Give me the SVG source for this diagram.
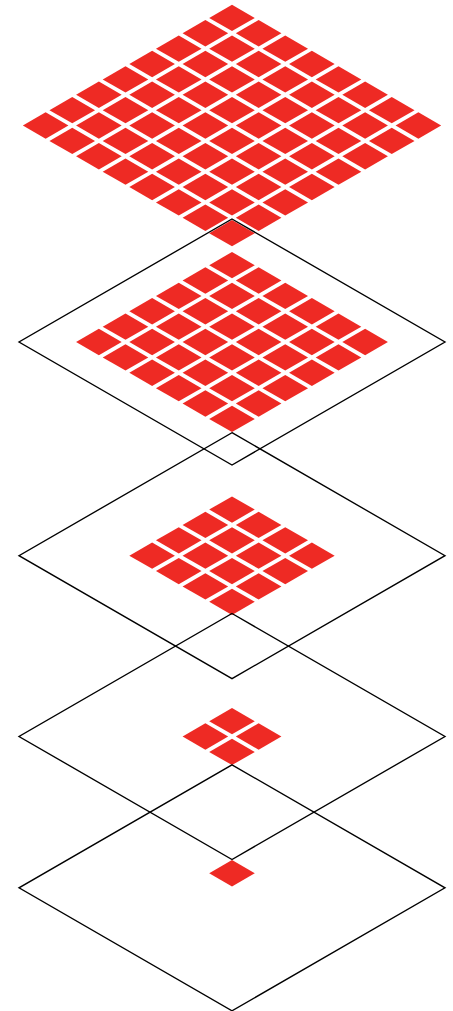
<svg xmlns="http://www.w3.org/2000/svg" width="453" height="1011" viewBox="0 0 453 1011">
<style>
.tiles{fill:#EE2A24}
.outline{fill:none;stroke:#000;stroke-width:1.35;stroke-linejoin:miter}
</style>
<defs>
<rect id="t" x="0.072" y="0.072" width="0.856" height="0.856"/>
</defs>
<rect width="453" height="1011" fill="#fff"/>
<g id="layer1">
<g class="tiles" transform="matrix(26.625 15.375 -26.625 15.375 232 2.5)">
<use href="#t" x="0" y="0"/><use href="#t" x="1" y="0"/><use href="#t" x="2" y="0"/><use href="#t" x="3" y="0"/><use href="#t" x="4" y="0"/><use href="#t" x="5" y="0"/><use href="#t" x="6" y="0"/><use href="#t" x="7" y="0"/>
<use href="#t" x="0" y="1"/><use href="#t" x="1" y="1"/><use href="#t" x="2" y="1"/><use href="#t" x="3" y="1"/><use href="#t" x="4" y="1"/><use href="#t" x="5" y="1"/><use href="#t" x="6" y="1"/><use href="#t" x="7" y="1"/>
<use href="#t" x="0" y="2"/><use href="#t" x="1" y="2"/><use href="#t" x="2" y="2"/><use href="#t" x="3" y="2"/><use href="#t" x="4" y="2"/><use href="#t" x="5" y="2"/><use href="#t" x="6" y="2"/><use href="#t" x="7" y="2"/>
<use href="#t" x="0" y="3"/><use href="#t" x="1" y="3"/><use href="#t" x="2" y="3"/><use href="#t" x="3" y="3"/><use href="#t" x="4" y="3"/><use href="#t" x="5" y="3"/><use href="#t" x="6" y="3"/><use href="#t" x="7" y="3"/>
<use href="#t" x="0" y="4"/><use href="#t" x="1" y="4"/><use href="#t" x="2" y="4"/><use href="#t" x="3" y="4"/><use href="#t" x="4" y="4"/><use href="#t" x="5" y="4"/><use href="#t" x="6" y="4"/><use href="#t" x="7" y="4"/>
<use href="#t" x="0" y="5"/><use href="#t" x="1" y="5"/><use href="#t" x="2" y="5"/><use href="#t" x="3" y="5"/><use href="#t" x="4" y="5"/><use href="#t" x="5" y="5"/><use href="#t" x="6" y="5"/><use href="#t" x="7" y="5"/>
<use href="#t" x="0" y="6"/><use href="#t" x="1" y="6"/><use href="#t" x="2" y="6"/><use href="#t" x="3" y="6"/><use href="#t" x="4" y="6"/><use href="#t" x="5" y="6"/><use href="#t" x="6" y="6"/><use href="#t" x="7" y="6"/>
<use href="#t" x="0" y="7"/><use href="#t" x="1" y="7"/><use href="#t" x="2" y="7"/><use href="#t" x="3" y="7"/><use href="#t" x="4" y="7"/><use href="#t" x="5" y="7"/><use href="#t" x="6" y="7"/><use href="#t" x="7" y="7"/>
</g>
</g>
<g id="layer2">
<polygon class="outline" points="232,219 445,342 232,465 19,342"/>
<g class="tiles" transform="matrix(26.625 15.375 -26.625 15.375 232 249.75)">
<use href="#t" x="0" y="0"/><use href="#t" x="1" y="0"/><use href="#t" x="2" y="0"/><use href="#t" x="3" y="0"/><use href="#t" x="4" y="0"/><use href="#t" x="5" y="0"/>
<use href="#t" x="0" y="1"/><use href="#t" x="1" y="1"/><use href="#t" x="2" y="1"/><use href="#t" x="3" y="1"/><use href="#t" x="4" y="1"/><use href="#t" x="5" y="1"/>
<use href="#t" x="0" y="2"/><use href="#t" x="1" y="2"/><use href="#t" x="2" y="2"/><use href="#t" x="3" y="2"/><use href="#t" x="4" y="2"/><use href="#t" x="5" y="2"/>
<use href="#t" x="0" y="3"/><use href="#t" x="1" y="3"/><use href="#t" x="2" y="3"/><use href="#t" x="3" y="3"/><use href="#t" x="4" y="3"/><use href="#t" x="5" y="3"/>
<use href="#t" x="0" y="4"/><use href="#t" x="1" y="4"/><use href="#t" x="2" y="4"/><use href="#t" x="3" y="4"/><use href="#t" x="4" y="4"/><use href="#t" x="5" y="4"/>
<use href="#t" x="0" y="5"/><use href="#t" x="1" y="5"/><use href="#t" x="2" y="5"/><use href="#t" x="3" y="5"/><use href="#t" x="4" y="5"/><use href="#t" x="5" y="5"/>
</g>
</g>
<g id="layer3">
<polygon class="outline" points="232,432.7 445,555.7 232,678.7 19,555.7"/>
<g class="tiles" transform="matrix(26.625 15.375 -26.625 15.375 232 494.2)">
<use href="#t" x="0" y="0"/><use href="#t" x="1" y="0"/><use href="#t" x="2" y="0"/><use href="#t" x="3" y="0"/>
<use href="#t" x="0" y="1"/><use href="#t" x="1" y="1"/><use href="#t" x="2" y="1"/><use href="#t" x="3" y="1"/>
<use href="#t" x="0" y="2"/><use href="#t" x="1" y="2"/><use href="#t" x="2" y="2"/><use href="#t" x="3" y="2"/>
<use href="#t" x="0" y="3"/><use href="#t" x="1" y="3"/><use href="#t" x="2" y="3"/><use href="#t" x="3" y="3"/>
</g>
</g>
<g id="layer4">
<polygon class="outline" points="232,613.5 445,736.5 232,859.5 19,736.5"/>
<g class="tiles" transform="matrix(26.625 15.375 -26.625 15.375 232 705.75)">
<use href="#t" x="0" y="0"/><use href="#t" x="1" y="0"/>
<use href="#t" x="0" y="1"/><use href="#t" x="1" y="1"/>
</g>
</g>
<g id="layer5">
<polygon class="outline" points="232,764.8 445,887.8 232,1010.8 19,887.8"/>
<g class="tiles" transform="matrix(26.625 15.375 -26.625 15.375 232 857.9)">
<use href="#t" x="0" y="0"/>
</g>
</g>
</svg>
